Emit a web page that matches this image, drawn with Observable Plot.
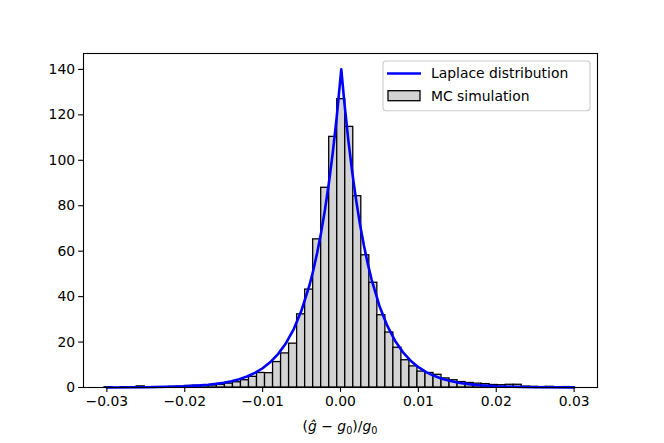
<!DOCTYPE html>
<html>
<head>
<meta charset="utf-8">
<script src="https://cdn.jsdelivr.net/npm/d3@7"></script>
<script src="https://cdn.jsdelivr.net/npm/@observablehq/plot@0.6"></script>
<style>
  html, body { margin: 0; padding: 0; background: white; }
</style>
</head>
<body>
<div id="chart"></div>
<script>
// ---- Data ----
// Histogram (density) : first bin edge, bin width, and bar heights from left to right
const firstBinEdge = -0.03029;
const binWidth = 0.00103;
const binHeights = [
  0.1, 0.0, 0.1, 0.1, 0.5, 0.1, 0.2, 0.2, 0.3, 0.4,
  0.7, 0.8, 0.9, 0.9, 1.2, 1.7, 2.3, 3.2, 4.7, 6.4,
  6.3, 11.2, 15.0, 19.3, 32.2, 43.1, 65.2, 87.9, 110.3, 126.9,
  114.7, 84.2, 58.2, 46.1, 31.8, 24.2, 17.5, 12.0, 9.3, 7.0,
  6.4, 5.6, 4.0, 3.2, 2.4, 2.0, 1.7, 1.5, 1.1, 1.0,
  1.2, 1.2, 0.4, 0.3, 0.2, 0.3, 0.1, 0.2
];

// Laplace distribution curve
const curveX = [
  -0.03, -0.025, -0.022, -0.02, -0.018, -0.017, -0.016, -0.015, -0.014, -0.013,
  -0.012, -0.011, -0.010, -0.009, -0.008, -0.007, -0.006, -0.005, -0.004, -0.0035,
  -0.003, -0.0025, -0.002, -0.0015, -0.001, -0.0005, 0.0001, 0.0005, 0.001, 0.0015,
  0.002, 0.0025, 0.003, 0.0035, 0.004, 0.005, 0.006, 0.007, 0.008, 0.009,
  0.010, 0.011, 0.012, 0.013, 0.014, 0.015, 0.016, 0.017, 0.018, 0.02,
  0.022, 0.025, 0.03
];
const curveY = [
  0.03, 0.13, 0.30, 0.53, 0.92, 1.21, 1.60, 2.12, 2.79, 3.68,
  4.86, 6.41, 8.47, 11.2, 14.8, 19.5, 25.7, 34.0, 44.8, 51.5,
  59.2, 68.0, 78.1, 89.8, 103.1, 118.5, 140.0, 125.3, 109.0, 94.9,
  82.6, 71.9, 62.6, 54.5, 47.4, 35.9, 27.2, 20.6, 15.6, 11.8,
  8.95, 6.78, 5.14, 3.89, 2.95, 2.23, 1.69, 1.28, 0.97, 0.56,
  0.32, 0.14, 0.035
];

const xTickValues = [-0.03, -0.02, -0.01, 0.00, 0.01, 0.02, 0.03];
const yTickValues = [0, 20, 40, 60, 80, 100, 120, 140];
const legendLabels = ["Laplace distribution", "MC simulation"];

// ---- Tables built from the arrays ----
const bins = binHeights.map((h, i) => ({
  x1: firstBinEdge + i * binWidth,
  x2: firstBinEdge + (i + 1) * binWidth,
  h
}));
const curve = curveX.map((x, i) => ({x, y: curveY[i]}));

const fmtX = d => (d < 0 ? "\u2212" : "") + Math.abs(d).toFixed(2);

const chart = Plot.plot({
  width: 664,
  height: 443,
  marginLeft: 83,
  marginRight: 67,
  marginTop: 53,
  marginBottom: 56,
  style: {fontFamily: "DejaVu Sans", fontSize: "13.9px", color: "black", background: "white"},
  x: {domain: [-0.033, 0.033]},
  y: {domain: [0, 147]},
  marks: [
    Plot.rect(bins, {x1: "x1", x2: "x2", y1: 0, y2: "h", fill: "#d3d3d3", stroke: "black", strokeWidth: 1.3}),
    Plot.line(curve, {x: "x", y: "y", stroke: "#0000ff", strokeWidth: 2.6}),
    Plot.frame({stroke: "black", strokeWidth: 1.1}),
    Plot.axisX({ticks: xTickValues, tickFormat: fmtX, tickSize: 4.9, tickPadding: 3.5, strokeWidth: 1.1, label: null, fontSize: 13.9}),
    Plot.axisY({ticks: yTickValues, tickSize: 4.9, tickPadding: 3.5, strokeWidth: 1.1, label: null, fontSize: 13.9})
  ]
});

document.getElementById("chart").appendChild(chart);

// ---- x-axis label with math styling ----
const svg = d3.select(chart);
const xs = chart.scale("x");
const xc = xs.apply(0);
const lab = svg.append("text")
  .attr("x", xc).attr("y", 431)
  .attr("text-anchor", "middle")
  .attr("font-family", "DejaVu Sans")
  .attr("font-size", 13.9)
  .attr("fill", "black");
lab.append("tspan").text("(");
lab.append("tspan").attr("font-style", "italic").text("g\u0302");
lab.append("tspan").text(" \u2212 ");
lab.append("tspan").attr("font-style", "italic").text("g");
lab.append("tspan").attr("font-size", 9.7).attr("dy", 2.5).text("0");
lab.append("tspan").attr("dy", -2.5).text(")/");
lab.append("tspan").attr("font-style", "italic").text("g");
lab.append("tspan").attr("font-size", 9.7).attr("dy", 2.5).text("0");

// ---- Legend inside the axes (upper right) ----
const lg = svg.append("g").attr("text-anchor", "start");
lg.append("rect")
  .attr("x", 383).attr("y", 61).attr("width", 207).attr("height", 49.7)
  .attr("rx", 3).attr("ry", 3)
  .attr("fill", "white").attr("fill-opacity", 0.8)
  .attr("stroke", "#cccccc").attr("stroke-width", 1.1);
lg.append("line")
  .attr("x1", 387).attr("x2", 421).attr("y1", 73.5).attr("y2", 73.5)
  .attr("stroke", "#0000ff").attr("stroke-width", 2.6);
lg.append("rect")
  .attr("x", 388).attr("y", 90.7).attr("width", 32).attr("height", 10)
  .attr("fill", "#d3d3d3").attr("stroke", "black").attr("stroke-width", 1.3);
legendLabels.forEach((t, i) => {
  lg.append("text")
    .attr("x", 431).attr("y", i === 0 ? 78.3 : 100.5)
    .attr("text-anchor", "start")
    .attr("font-family", "DejaVu Sans").attr("font-size", 13.9)
    .attr("fill", "black").text(t);
});
</script>
</body>
</html>
